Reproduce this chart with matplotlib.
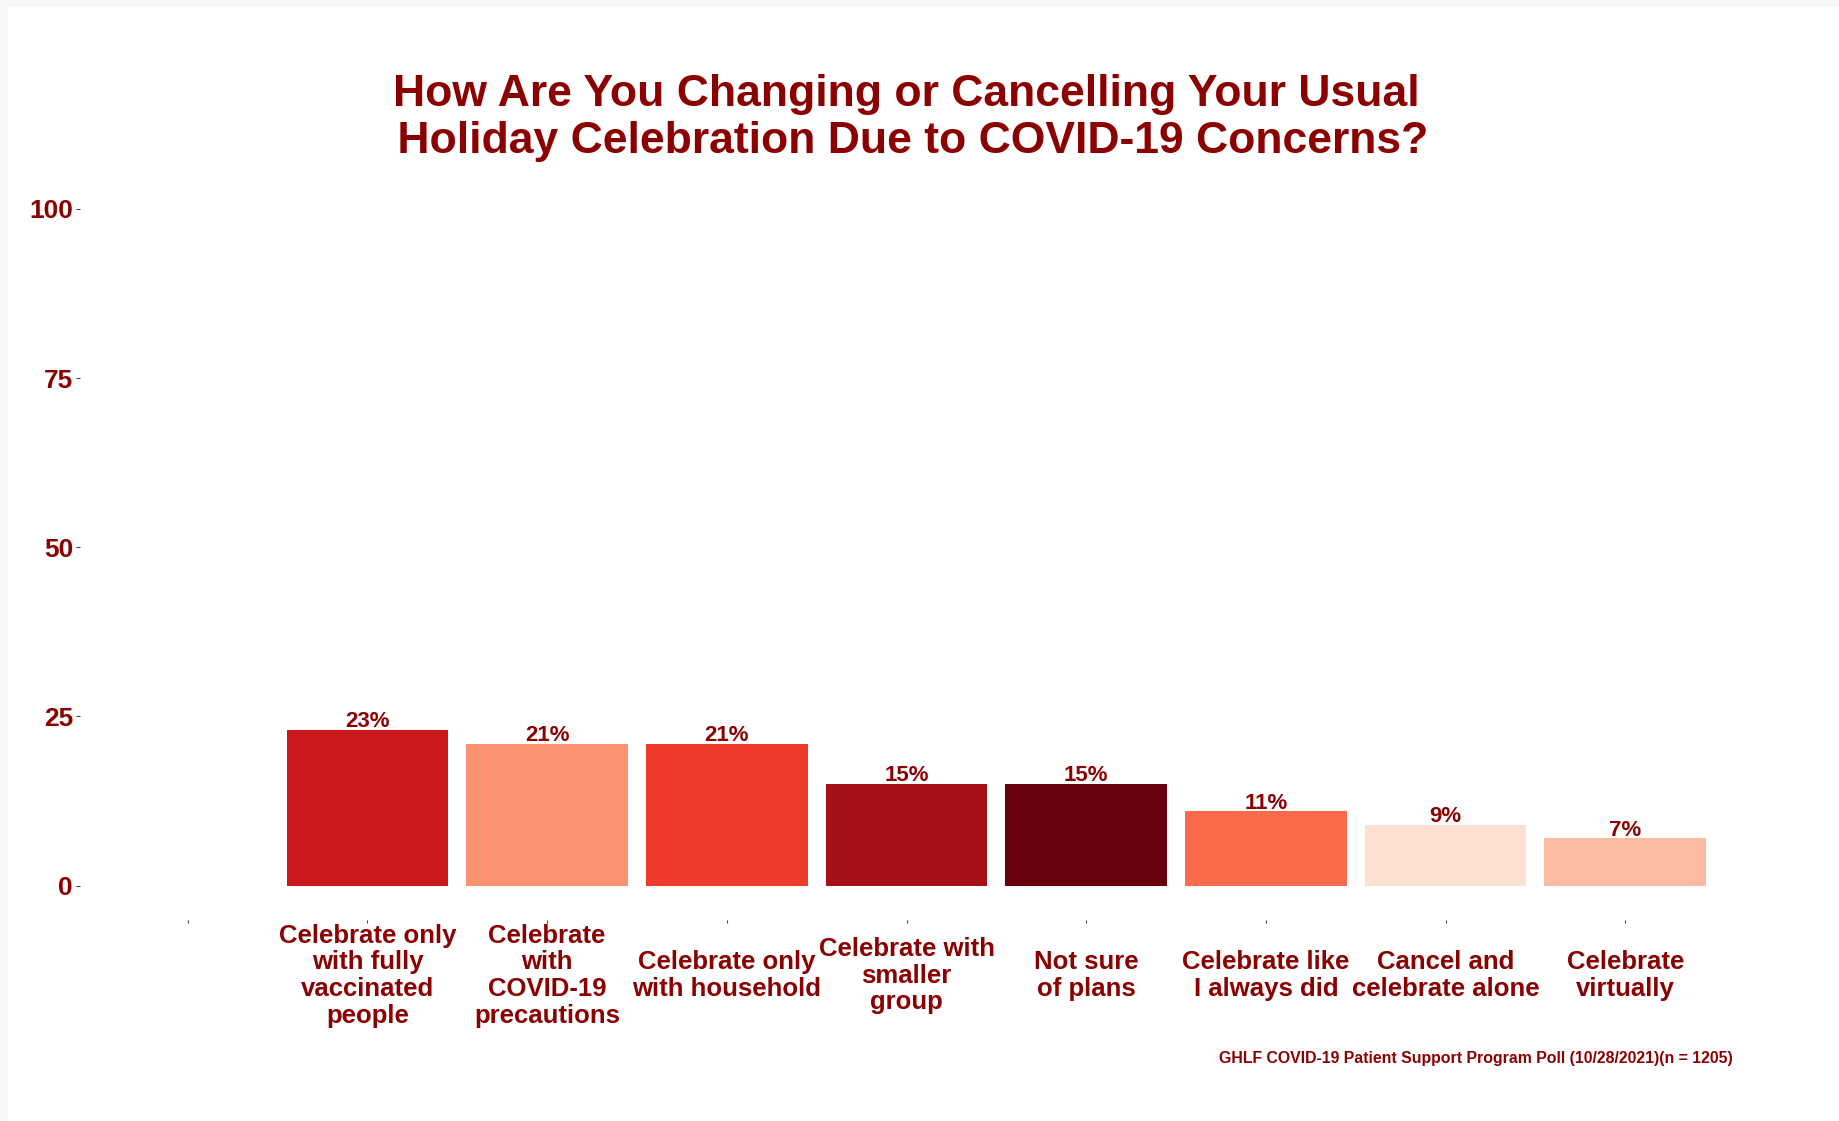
import matplotlib.pyplot as plt
from matplotlib.patches import Rectangle

# Poll answers (first slot is an empty category), share in percent
categories = [
    "",
    "Celebrate only\nwith fully\nvaccinated\npeople",
    "Celebrate\nwith\nCOVID-19\nprecautions",
    "Celebrate only\nwith household",
    "Celebrate with\nsmaller\ngroup",
    "Not sure\nof plans",
    "Celebrate like\nI always did",
    "Cancel and\ncelebrate alone",
    "Celebrate\nvirtually",
]
values = [0, 23, 21, 21, 15, 15, 11, 9, 7]
colors = ["#FFF5F0", "#CB181D", "#FC9272", "#EF3B2C", "#A50F15",
          "#67000D", "#FB6A4A", "#FEE0D2", "#FCBBA1"]
yticks = [0, 25, 50, 75, 100]

text_red = "#8B0000"
plt.rcParams["font.family"] = ["Liberation Sans", "DejaVu Sans"]
plt.rcParams["font.weight"] = "bold"

W, H, DPI = 1839, 1121, 100
fig = plt.figure(figsize=(W / DPI, H / DPI), dpi=DPI)
fig.patch.set_facecolor("#F8F8F8")
fig.patches.append(Rectangle((8 / W, 0), 1, 1 - 7 / H, transform=fig.transFigure,
                             facecolor="white", edgecolor="none", zorder=-10))

# panel in pixel coordinates
left, right, top, bottom = 80, 1733, 175, 919.5
ax = fig.add_axes([left / W, 1 - bottom / H, (right - left) / W, (bottom - top) / H])
ax.set_facecolor("none")

x = list(range(1, len(categories) + 1))
ax.bar(x, values, width=0.9, color=colors, linewidth=0)
for xi, v in zip(x[1:], values[1:]):
    ax.text(xi, v + 0.4, f"{v}%", ha="center", va="baseline",
            fontsize=16, fontweight="bold", color=text_red)

ax.set_xlim(0.4, 9.6)
ax.set_ylim(-5, 105)
ax.set_yticks(yticks)
ax.set_yticklabels([str(t) for t in yticks])
ax.set_xticks(x)
ax.set_xticklabels(categories, linespacing=1.14, va="center")

for s in ax.spines.values():
    s.set_visible(False)
ax.tick_params(axis="y", length=3, width=0.8, color="#444444", pad=2,
               labelsize=19, labelcolor=text_red)
ax.tick_params(axis="x", length=2.5, width=0.8, color="#444444", pad=38,
               labelsize=18.5, labelcolor=text_red)

fig.text((left + right) / 2 / W, 1 - 118 / H,
         "How Are You Changing or Cancelling Your Usual\n Holiday Celebration Due to COVID-19 Concerns?",
         ha="center", va="center", fontsize=32, fontweight="bold",
         color=text_red, linespacing=1.17)

fig.text(right / W, 1 - 1059 / H,
         "GHLF COVID-19 Patient Support Program Poll (10/28/2021)(n = 1205)",
         ha="right", va="center", fontsize=11.4, fontweight="bold", color=text_red)

fig.savefig("out.png", dpi=DPI, facecolor=fig.get_facecolor())
